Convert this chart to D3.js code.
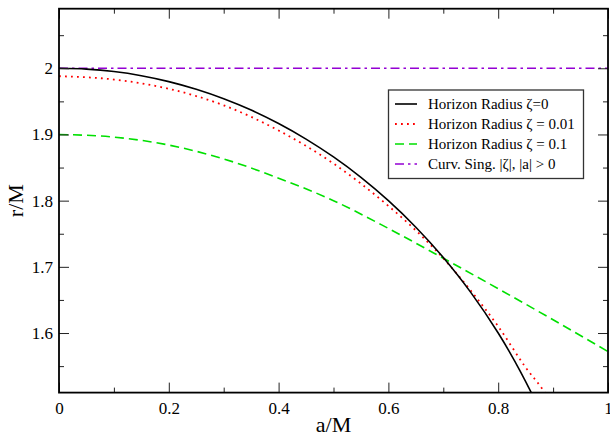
<!DOCTYPE html>
<html><head><meta charset="utf-8">
<script src="https://cdn.jsdelivr.net/npm/d3@7"></script>
<style>
body{margin:0;background:#fff;}
svg{display:block;font-family:"Liberation Serif","Times New Roman",serif;}
</style></head>
<body>
<svg id="c" width="610" height="439"></svg>
<script>
// ---- data ----
const kerrA = [0,0.05,0.1,0.15,0.2,0.25,0.3,0.35,0.4,0.45,0.5,0.55,0.6,0.65,0.7,0.75,0.8,0.82,0.84,0.86,0.87];
const kerrR = [2,1.9987,1.9950,1.9887,1.9798,1.9682,1.9539,1.9368,1.9165,1.8930,1.8660,1.8352,1.8,1.7599,1.7141,1.6614,1.6,1.5724,1.5426,1.5103,1.4931];
const z001A = [0,0.1,0.2,0.3,0.4,0.5,0.6,0.65,0.7,0.75,0.8,0.85,0.885,0.9];
const z001R = [1.988,1.983,1.969,1.944,1.906,1.856,1.792,1.755,1.713,1.664,1.610,1.548,1.510,1.490];
const z01A = [0,0.1,0.2,0.3,0.4,0.5,0.6,0.7,0.8,0.9,1.0];
const z01R = [1.900,1.896,1.884,1.863,1.834,1.800,1.758,1.713,1.667,1.620,1.572];
const singA = [0,1];
const singR = [2,2];
const xMajor = [0,0.2,0.4,0.6,0.8,1];
const xMajorLabels = ["0","0.2","0.4","0.6","0.8","1"];
const xMinor = [0.1,0.3,0.5,0.7,0.9];
const yMajor = [1.6,1.7,1.8,1.9,2.0];
const yMajorLabels = ["1.6","1.7","1.8","1.9","2"];
const yMinor = [1.55,1.65,1.75,1.85,1.95,2.05];
const legendLabels = ["Horizon Radius \u03b6=0","Horizon Radius \u03b6 = 0.01","Horizon Radius \u03b6 = 0.1","Curv. Sing. |\u03b6|, |a| > 0"];

const svg = d3.select("#c");
const L=59, R=608, T=8.7, B=392.6;
const x = d3.scaleLinear().domain([0,1]).range([L,R]);
const y = d3.scaleLinear().domain([1.51,2.09]).range([B,T]);

svg.append("defs").append("clipPath").attr("id","clip")
  .append("rect").attr("x",L).attr("y",T).attr("width",R-L).attr("height",B-T);

const series = [
  {a:kerrA, r:kerrR, color:"#000000", dash:null, w:1.6},
  {a:z001A, r:z001R, color:"#ff0000", dash:"1.8,4.2", w:1.8},
  {a:z01A, r:z01R, color:"#00e000", dash:"9,5", w:1.6},
  {a:singA, r:singR, color:"#9400d3", dash:"9,4,2.5,4", w:1.6}
];
const line = d3.line().x(d=>x(d[0])).y(d=>y(d[1])).curve(d3.curveMonotoneX);
const g = svg.append("g").attr("clip-path","url(#clip)");
series.slice().reverse().forEach(s=>{
  g.append("path").datum(s.a.map((v,i)=>[v,s.r[i]]))
   .attr("d",line).attr("fill","none").attr("stroke",s.color)
   .attr("stroke-width",s.w).attr("stroke-dasharray",s.dash);
});

// axes (ticks inward on all four sides)
const axBot = d3.axisBottom(x).tickValues(xMajor).tickSize(-10).tickFormat((d,i)=>xMajorLabels[i]).tickPadding(9);
const axBotMin = d3.axisBottom(x).tickValues(xMinor).tickSize(-5).tickFormat("");
const axTop = d3.axisTop(x).tickValues(xMajor).tickSize(-10).tickFormat("");
const axTopMin = d3.axisTop(x).tickValues(xMinor).tickSize(-5).tickFormat("");
const axLeft = d3.axisLeft(y).tickValues(yMajor).tickSize(-10).tickFormat((d,i)=>yMajorLabels[i]).tickPadding(6);
const axLeftMin = d3.axisLeft(y).tickValues(yMinor).tickSize(-5).tickFormat("");
const axRight = d3.axisRight(y).tickValues(yMajor).tickSize(-10).tickFormat("");
const axRightMin = d3.axisRight(y).tickValues(yMinor).tickSize(-5).tickFormat("");

function styleAx(sel){
  sel.select(".domain").remove();
  sel.selectAll(".tick line").attr("stroke","#222").attr("stroke-width",1);
  sel.selectAll(".tick text").attr("font-family","Liberation Serif").attr("font-size",17).attr("fill","#000");
}
[[axBot,`translate(0,${B})`],[axBotMin,`translate(0,${B})`],[axTop,`translate(0,${T})`],[axTopMin,`translate(0,${T})`],
 [axLeft,`translate(${L},0)`],[axLeftMin,`translate(${L},0)`],[axRight,`translate(${R},0)`],[axRightMin,`translate(${R},0)`]]
 .forEach(([ax,tr])=>{ svg.append("g").attr("transform",tr).call(ax).call(styleAx); });

svg.append("rect").attr("x",L).attr("y",T).attr("width",R-L).attr("height",B-T)
  .attr("fill","none").attr("stroke","#000").attr("stroke-width",1.8);

// axis titles
svg.append("text").attr("x",(L+R)/2).attr("y",432).attr("text-anchor","middle")
  .attr("font-size",22).text("a/M");
svg.append("text").attr("transform",`translate(23,${(T+B)/2}) rotate(-90)`).attr("text-anchor","middle")
  .attr("font-size",22).text("r/M");

// legend
const lg = svg.append("g");
lg.append("rect").attr("x",388.5).attr("y",90).attr("width",195).attr("height",88.5)
  .attr("fill","#fff").attr("stroke","#333").attr("stroke-width",1.3);
series.forEach((s,i)=>{
  const yy = 104 + i*20;
  lg.append("line").attr("x1",395).attr("x2",417).attr("y1",yy).attr("y2",yy)
    .attr("stroke",s.color).attr("stroke-width",s.w).attr("stroke-dasharray",s.dash);
  lg.append("text").attr("x",428).attr("y",yy+5).attr("font-size",15).text(legendLabels[i]);
});
</script>
</body></html>
